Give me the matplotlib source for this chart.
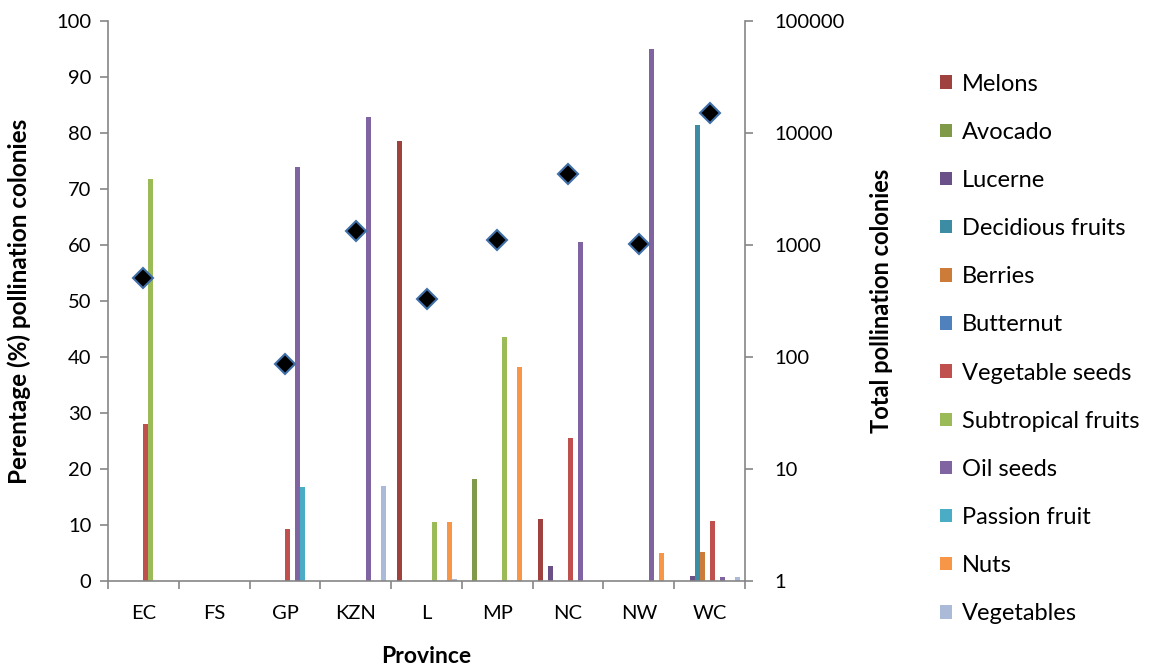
import numpy as np
import matplotlib
matplotlib.use("Agg")
import matplotlib.pyplot as plt
from matplotlib.patches import Patch
from matplotlib.ticker import NullLocator

plt.rcParams['font.family'] = ['Lato', 'DejaVu Sans']

# -----------------------------
# DATA
# -----------------------------
provinces = ["EC", "FS", "GP", "KZN", "L", "MP", "NC", "NW", "WC"]

melons = [0, 0, 0, 0, 78.5, 0, 11.1, 0, 0]
avocado = [0, 0, 0, 0, 0, 18.2, 0, 0, 0]
lucerne = [0, 0, 0, 0, 0, 0, 2.7, 0, 0.9]
decidious = [0, 0, 0, 0, 0, 0, 0, 0, 81.5]
berries = [0, 0, 0, 0, 0, 0, 0, 0, 5.2]
butternut = [0, 0, 0, 0, 0, 0, 0, 0, 0]
veg_seeds = [28.0, 0, 9.2, 0, 0, 0, 25.5, 0, 10.8]
subtropical = [71.8, 0, 0, 0, 10.5, 43.6, 0, 0, 0]
oil_seeds = [0, 0, 74.0, 82.9, 0, 0, 60.5, 95.0, 0.8]
passion = [0, 0, 16.8, 0, 0, 0, 0, 0, 0]
nuts = [0, 0, 0, 0, 10.5, 38.2, 0, 5.0, 0]
vegetables = [0, 0, 0, 17.0, 0.3, 0, 0, 0, 0.7]

total_colonies = [510, np.nan, 87, 1340, 332, 1108, 4280, 1014, 15000]

series_names = ["Melons", "Avocado", "Lucerne", "Decidious fruits", "Berries",
                "Butternut", "Vegetable seeds", "Subtropical fruits", "Oil seeds",
                "Passion fruit", "Nuts", "Vegetables"]
series_values = [melons, avocado, lucerne, decidious, berries, butternut,
                 veg_seeds, subtropical, oil_seeds, passion, nuts, vegetables]
series_colors = ["#9F413E", "#7F9A48", "#6A5087", "#3C8DA3", "#CC7B38", "#4F81BD",
                 "#C0504D", "#9BBB59", "#8064A2", "#4BACC6", "#F79646", "#AABAD7"]

# -----------------------------
# PLOT
# -----------------------------
AXIS_GRAY = "#868686"
fig = plt.figure(figsize=(11.54, 6.71), dpi=100)
ax = fig.add_axes([0.0936, 0.1341, 0.5520, 0.8346])

n = len(series_names)
bw = 0.0706
centers = np.arange(len(provinces)) + 0.5
for j, (name, vals, col) in enumerate(zip(series_names, series_values, series_colors)):
    ax.bar(centers + (j - (n - 1) / 2) * bw, vals, width=bw, color=col,
           linewidth=0, label=name)

ax.set_xlim(0, len(provinces))
ax.set_ylim(0, 100)
ax.set_yticks(np.arange(0, 101, 10))
ax.set_xticks(np.arange(0, len(provinces) + 1))
ax.set_xticklabels([])
ax.set_xticks(centers, minor=True)
ax.set_xticklabels(provinces, minor=True)
ax.tick_params(axis="x", which="minor", length=0, pad=17.5, labelsize=14.5)
ax.tick_params(axis="x", which="major", length=6, color=AXIS_GRAY, width=1.2)
ax.tick_params(axis="y", length=6, color=AXIS_GRAY, width=1.2, labelsize=14.5, pad=6)

for side in ["left", "bottom"]:
    ax.spines[side].set_color(AXIS_GRAY)
    ax.spines[side].set_linewidth(1.2)
ax.spines["top"].set_visible(False)
ax.spines["right"].set_visible(False)

ax.set_xlabel("Province", fontsize=16.5, fontweight="bold", labelpad=17)
ax.set_ylabel("Perentage (%) pollination colonies", fontsize=17.5, fontweight="bold", labelpad=18)

# secondary axis: total colonies (log)
ax2 = ax.twinx()
ax2.set_yscale("log")
ax2.set_ylim(1, 100000)
ax2.plot(centers, total_colonies, linestyle="none", marker="D", markersize=10,
         markerfacecolor="black", markeredgecolor="#3F6FA8", markeredgewidth=1.5)
ticks2 = [1, 10, 100, 1000, 10000, 100000]
ax2.set_yticks(ticks2)
ax2.set_yticklabels([str(t) for t in ticks2])
ax2.yaxis.set_minor_locator(NullLocator())
ax2.tick_params(axis="y", length=6, color=AXIS_GRAY, width=1.2, labelsize=14.5, pad=15)
for side in ["left", "bottom", "top"]:
    ax2.spines[side].set_visible(False)
ax2.spines["right"].set_color(AXIS_GRAY)
ax2.spines["right"].set_linewidth(1.2)
ax2.set_ylabel("Total pollination colonies", fontsize=17, fontweight="bold", labelpad=18)

handles = [Patch(facecolor=c, edgecolor="none", label=nm)
           for nm, c in zip(series_names, series_colors)]
fig.legend(handles=handles, loc="upper left", bbox_to_anchor=(0.796, 0.922),
           frameon=False, fontsize=17, labelspacing=1.15,
           handlelength=0.5, handleheight=0.5, handletextpad=0.45)

fig.savefig("out.png", dpi=100)
